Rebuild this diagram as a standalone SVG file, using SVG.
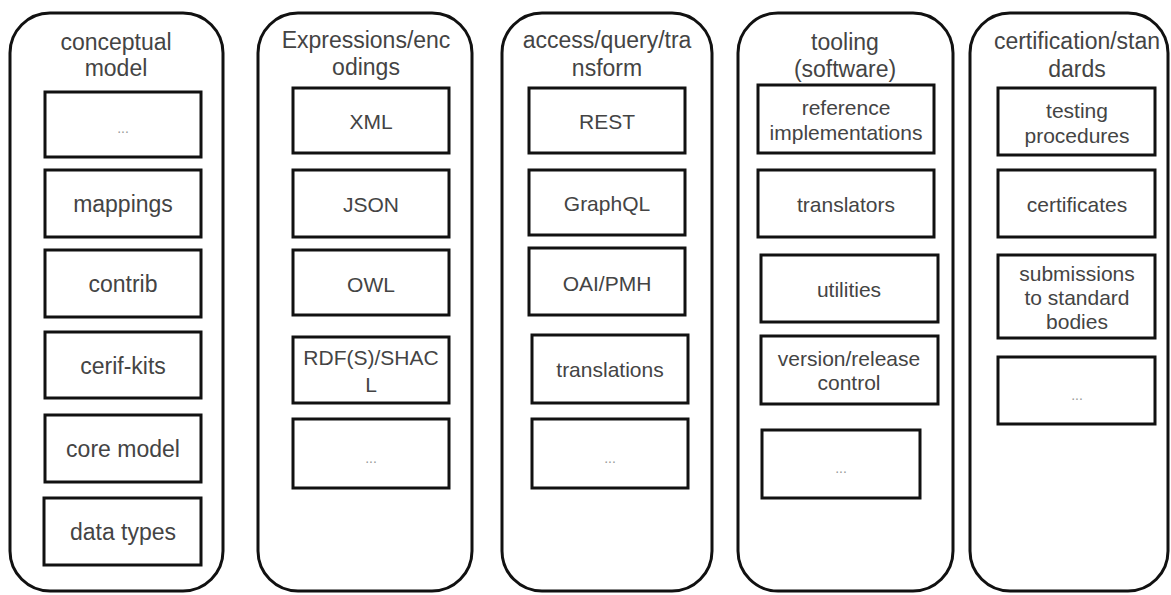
<svg xmlns="http://www.w3.org/2000/svg" width="1171" height="595" viewBox="0 0 1171 595">
<style>
.col{fill:#fff;stroke:#111;stroke-width:3}
.box{fill:#fff;stroke:#111;stroke-width:3}
.t{font-family:"Liberation Sans",Arial,sans-serif;font-size:23px;fill:#444;text-anchor:middle}
.i{font-family:"Liberation Sans",Arial,sans-serif;font-size:21px;fill:#444;text-anchor:middle;dominant-baseline:central}
.i1{font-size:23px}
.e{font-family:"Liberation Sans",Arial,sans-serif;font-size:14px;fill:#999;text-anchor:middle;dominant-baseline:central}
</style>
<rect width="1171" height="595" fill="#fff"/>
<g id="connectors"/>
<g id="col-conceptual">
<rect class="col" x="10" y="13" width="213" height="578" rx="40"/>
<text class="t" x="116" y="50">conceptual</text>
<text class="t" x="116" y="76">model</text>
<g id="cm-etc"><rect class="box" x="45" y="92" width="156" height="65"/><text class="e" x="123" y="128">...</text></g>
<g id="cm-mappings"><rect class="box" x="45" y="170" width="156" height="67"/><text class="i i1" x="123" y="204">mappings</text></g>
<g id="cm-contrib"><rect class="box" x="45" y="250" width="156" height="67"/><text class="i i1" x="123" y="284">contrib</text></g>
<g id="cm-cerif"><rect class="box" x="45" y="332" width="156" height="66"/><text class="i i1" x="123" y="366">cerif-kits</text></g>
<g id="cm-core"><rect class="box" x="45" y="415" width="156" height="67"/><text class="i i1" x="123" y="449">core model</text></g>
<g id="cm-datatypes"><rect class="box" x="44" y="498" width="157" height="67"/><text class="i i1" x="123" y="532">data types</text></g>
</g>
<g id="col-expressions">
<rect class="col" x="258" y="13" width="214" height="578" rx="40"/>
<text class="t" x="366" y="48">Expressions/enc</text>
<text class="t" x="366" y="75">odings</text>
<g id="ex-xml"><rect class="box" x="293" y="88" width="156" height="65"/><text class="i" x="371" y="121">XML</text></g>
<g id="ex-json"><rect class="box" x="293" y="170" width="156" height="67"/><text class="i" x="371" y="204">JSON</text></g>
<g id="ex-owl"><rect class="box" x="293" y="250" width="156" height="65"/><text class="i" x="371" y="284">OWL</text></g>
<g id="ex-rdf"><rect class="box" x="293" y="337" width="156" height="66"/><text class="i" x="371" y="357">RDF(S)/SHAC</text><text class="i" x="371" y="384">L</text></g>
<g id="ex-etc"><rect class="box" x="293" y="419" width="156" height="69"/><text class="e" x="371" y="458">...</text></g>
</g>
<g id="col-access">
<rect class="col" x="502" y="13" width="210" height="578" rx="40"/>
<text class="t" x="607" y="48">access/query/tra</text>
<text class="t" x="607" y="76">nsform</text>
<g id="ac-rest"><rect class="box" x="529" y="88" width="156" height="65"/><text class="i" x="607" y="121">REST</text></g>
<g id="ac-graphql"><rect class="box" x="529" y="170" width="156" height="65"/><text class="i" x="607" y="203">GraphQL</text></g>
<g id="ac-oai"><rect class="box" x="529" y="248" width="156" height="67"/><text class="i" x="607" y="283">OAI/PMH</text></g>
<g id="ac-translations"><rect class="box" x="532" y="335" width="156" height="68"/><text class="i" x="610" y="369">translations</text></g>
<g id="ac-etc"><rect class="box" x="532" y="419" width="156" height="69"/><text class="e" x="610" y="458">...</text></g>
</g>
<g id="col-tooling">
<rect class="col" x="738" y="13" width="215" height="578" rx="40"/>
<text class="t" x="845" y="50">tooling</text>
<text class="t" x="845" y="77">(software)</text>
<g id="to-ref"><rect class="box" x="758" y="85" width="176" height="68"/><text class="i" x="846" y="107">reference</text><text class="i" x="846" y="132">implementations</text></g>
<g id="to-translators"><rect class="box" x="758" y="170" width="176" height="67"/><text class="i" x="846" y="204">translators</text></g>
<g id="to-utilities"><rect class="box" x="761" y="255" width="177" height="67"/><text class="i" x="849" y="289">utilities</text></g>
<g id="to-version"><rect class="box" x="761" y="336" width="177" height="68"/><text class="i" x="849" y="358">version/release</text><text class="i" x="849" y="382">control</text></g>
<g id="to-etc"><rect class="box" x="762" y="430" width="158" height="68"/><text class="e" x="841" y="468">...</text></g>
</g>
<g id="col-certification">
<rect class="col" x="970" y="13" width="198" height="578" rx="40"/>
<text class="t" x="1077" y="49">certification/stan</text>
<text class="t" x="1077" y="77">dards</text>
<g id="ce-testing"><rect class="box" x="998" y="88" width="157" height="67"/><text class="i" x="1077" y="110">testing</text><text class="i" x="1077" y="135">procedures</text></g>
<g id="ce-certificates"><rect class="box" x="998" y="170" width="157" height="67"/><text class="i" x="1077" y="204">certificates</text></g>
<g id="ce-submissions"><rect class="box" x="998" y="255" width="157" height="83"/><text class="i" x="1077" y="273">submissions</text><text class="i" x="1077" y="297">to standard</text><text class="i" x="1077" y="321">bodies</text></g>
<g id="ce-etc"><rect class="box" x="998" y="357" width="157" height="67"/><text class="e" x="1077" y="395">...</text></g>
</g>
</svg>
